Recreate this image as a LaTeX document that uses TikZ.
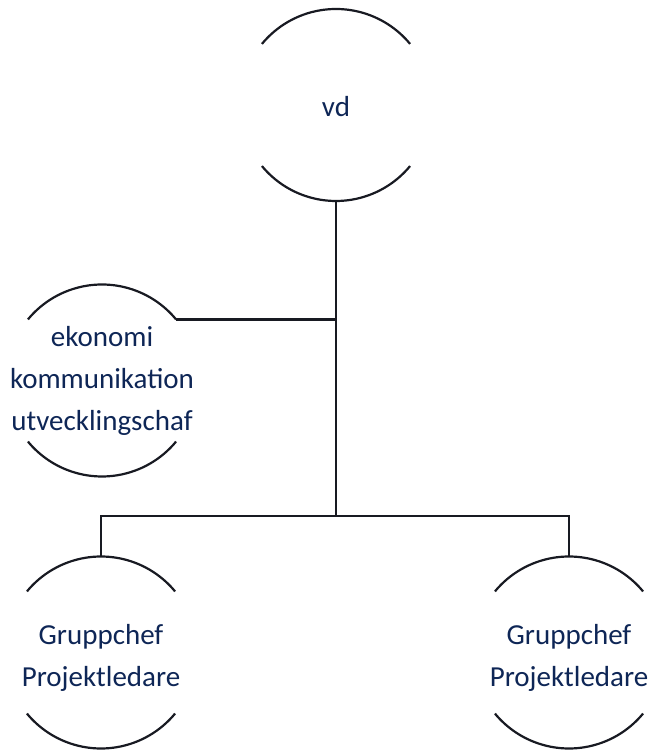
\documentclass[tikz,border=0pt]{standalone}
\usepackage{fontspec}
\setmainfont{Carlito}
\usetikzlibrary{calc}
\definecolor{navy}{RGB}{14,38,86}
\definecolor{ink}{RGB}{24,26,34}
\tikzset{
  lbl/.style={align=center, text=navy, inner sep=0pt, font=\fontsize{29}{42}\selectfont},
  arcline/.style={draw=ink, line width=2.2pt},
  conn/.style={draw=ink, line width=2.2pt}
}
\newcommand\twoarcs[1]{%
  \draw[arcline] (#1) ++(39.5:96) arc[start angle=39.5, end angle=140.5, radius=96];
  \draw[arcline] (#1) ++(219.5:96) arc[start angle=219.5, end angle=320.5, radius=96];
}
\begin{document}
\begin{tikzpicture}[x=1pt,y=1pt]
\useasboundingbox (0,0) rectangle (649,751);
% circle centres
\coordinate (cvd) at (336,646);
\coordinate (ceko) at (102,370.5);
\coordinate (cg1) at (101,98.5);
\coordinate (cg2) at (569,98.5);
% shapes
\twoarcs{cvd}
\twoarcs{ceko}
\twoarcs{cg1}
\twoarcs{cg2}
% labels
\node[lbl] (vd) at (336,644) {vd};
\node[lbl] (eko) at (102,370.5) {ekonomi\\kommunikation\\utvecklingschaf};
\node[lbl] (g1) at (101,93.5) {Gruppchef\\Projektledare};
\node[lbl] (g2) at (569,93.5) {Gruppchef\\Projektledare};
% anchor points on the arcs
\coordinate (vdb) at ($(cvd)+(0,-96)$);
\coordinate (ekotr) at ($(ceko)+(39.5:96)$);
\coordinate (g1t) at ($(cg1)+(0,96)$);
\coordinate (g2t) at ($(cg2)+(0,96)$);
\coordinate (bar) at (336,235);
% connectors
\draw[conn] (vdb) -- (bar);
\draw[conn] (ekotr) -- (ekotr -| vdb);
\draw[conn] (bar) -| (g1t);
\draw[conn] (bar) -| (g2t);
\end{tikzpicture}
\end{document}
